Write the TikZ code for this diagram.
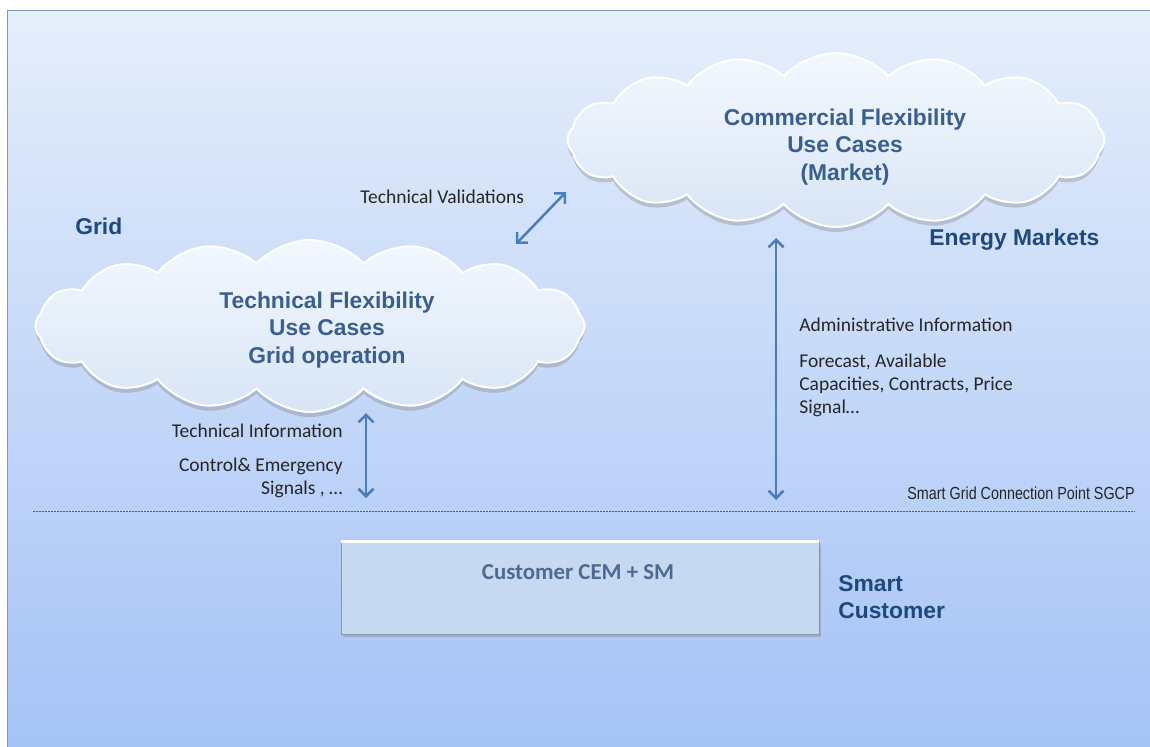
\documentclass[tikz,border=0pt]{standalone}
\usepackage{fontspec}
\setmainfont{Liberation Sans}
\newfontfamily\calibri{Carlito}
\newfontfamily\narrowsans[FakeStretch=0.82]{Liberation Sans}
\usetikzlibrary{shapes.symbols,shadows,arrows.meta}
\definecolor{framecol}{HTML}{8096B8}
\definecolor{bgtop}{HTML}{E5EEFB}
\definecolor{bgbot}{HTML}{A4C2F6}
\definecolor{titleblue}{HTML}{1F497D}
\definecolor{cloudtxt}{HTML}{3A5F8F}
\definecolor{cloudtop}{HTML}{F3F8FE}
\definecolor{cloudbot}{HTML}{D8E5F6}
\definecolor{linkblue}{HTML}{4A7EBB}
\definecolor{boxfill}{HTML}{C6D9F1}
\definecolor{boxtxt}{HTML}{4D6B91}
\begin{document}
\begin{tikzpicture}[x=0.6pt,y=-0.6pt,
    cloudshape/.style={cloud,cloud puffs=16,cloud puff arc=95,cloud ignores aspect,inner sep=0pt,
        top color=cloudtop,bottom color=cloudbot,draw=white,line width=1.2pt,
        drop shadow={shadow xshift=0pt,shadow yshift=-3pt,opacity=0.35}},
    cloudtext/.style={font=\fontsize{13.7}{16.5}\selectfont\bfseries,text=cloudtxt,align=center,inner sep=0pt},
    region/.style={font=\fontsize{13.7}{16.5}\selectfont\bfseries,text=titleblue,align=left,inner sep=0pt},
    info/.style={font=\calibri\fontsize{11.7}{13.8}\selectfont,text=black!85,inner sep=0pt},
    link/.style={linkblue,line width=1.5pt,{Straight Barb[length=4.5pt,width=9pt]}-{Straight Barb[length=4.5pt,width=9pt]}}]
    \useasboundingbox (0,0) rectangle (1150,747);
    \draw[framecol,top color=bgtop,bottom color=bgbot] (7,10) rectangle (1160,760);

    \node[cloudshape,minimum width=329.4pt,minimum height=103.2pt] (tcloud) at (310,326) {};
    \node[cloudshape,minimum width=322.2pt,minimum height=104.4pt] (ccloud) at (836,140) {};
    \node[cloudtext] (ttext) at (327,330) {Technical Flexibility\\Use Cases\\Grid operation};
    \node[cloudtext] (ctext) at (845,147) {Commercial Flexibility\\Use Cases\\(Market)};

    \node[region,anchor=west] (grid) at (75,226) {Grid};
    \node[region,anchor=west] (markets) at (929,240) {Energy Markets};
    \node[region,anchor=west] (smart) at (838,597) {Smart\\Customer};

    \node[draw=boxfill!70!black,fill=boxfill,minimum width=286.8pt,minimum height=55.2pt,
        drop shadow={shadow xshift=1pt,shadow yshift=-2pt,opacity=0.4}] (cem) at (580,588) {};
    \draw[white,line width=1.5pt] (cem.north west) -- (cem.north east);
    \node[font=\calibri\fontsize{13.7}{16}\selectfont\bfseries,text=boxtxt,inner sep=0pt] (cemtext) at (578,572) {Customer CEM + SM};

    \node[info,anchor=west] (valid) at (360,197) {Technical Validations};
    \node[info,anchor=east] (techinfo) at (343,431) {Technical Information};
    \node[info,anchor=east,align=right] (control) at (343,478) {Control\& Emergency\\Signals , \dots};
    \node[info,anchor=west] (admin) at (799,325) {Administrative Information};
    \node[info,anchor=west,align=left] (forecast) at (799,385) {Forecast, Available\\Capacities, Contracts, Price\\Signal\dots};
    \node[font=\narrowsans\fontsize{10.5}{12}\selectfont,text=black!85,anchor=east,inner sep=0pt] (sgcp) at (1135,493) {Smart Grid Connection Point SGCP};

    \coordinate (tv1) at (516,244);
    \coordinate (tv2) at (566,192);
    \coordinate (ti1) at (366,413);
    \coordinate (ti2) at (366,498);
    \coordinate (ad1) at (776,238);
    \coordinate (ad2) at (776,500);
    \coordinate (cpl) at (33,511);
    \coordinate (cpr) at (1135,511);

    \draw[link] (tv1) -- (tv2);
    \draw[link] (ti1) -- (ti2);
    \draw[link] (ad1) -- (ad2);
    \draw[black!65,line width=0.5pt,dash pattern=on 1pt off 0.8pt] (cpl) -- (cpr);
\end{tikzpicture}
\end{document}
